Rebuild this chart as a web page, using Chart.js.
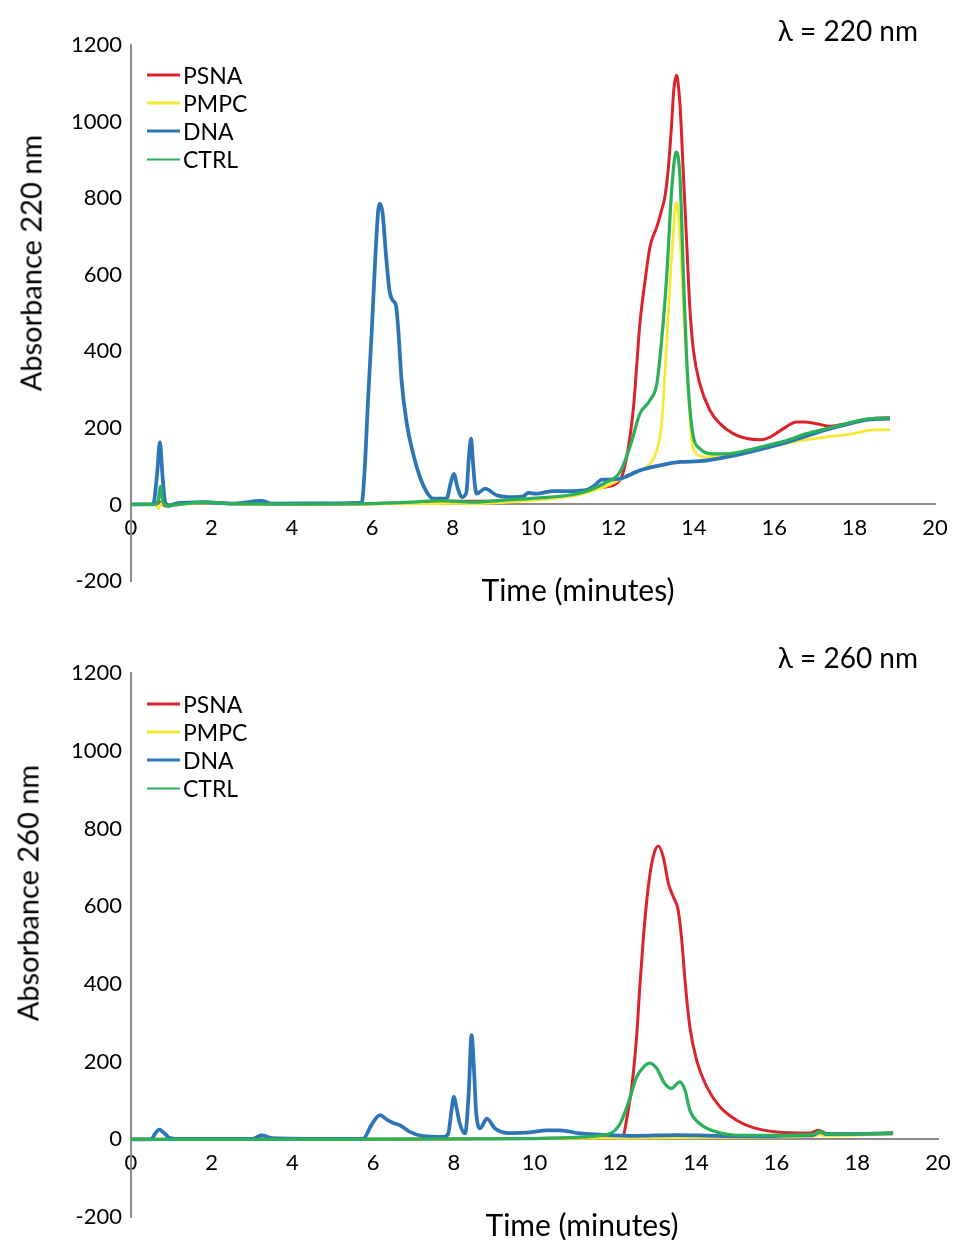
<!DOCTYPE html>
<html>
<head>
<meta charset="utf-8">
<title>HPLC chromatograms</title>
<script src="https://cdn.jsdelivr.net/npm/chart.js@4.4.1/dist/chart.umd.min.js"></script>
<style>
    html, body { margin: 0; padding: 0; background: #fff; }
    body { width: 954px; height: 1240px; position: relative; overflow: hidden; font-family: Lato, "Open Sans", sans-serif; color: #000; }
    canvas { position: absolute; left: 0; }
    .txt { position: absolute; white-space: nowrap; line-height: 1; }
    .center { transform: translate(-50%, -50%); }
    .vtitle { transform: translate(-50%, -50%) rotate(-90deg); }
    .lam { transform: translateY(-50%); }
    .legend-row { position: absolute; display: flex; align-items: center; transform: translateY(-50%); font-size: 23px; line-height: 1; }
    .legend-row .swatch { display: inline-block; width: 33px; margin-right: 3px; }
</style>
</head>
<body>
<canvas id="chart220" width="954" height="620" style="top:0"></canvas>
<canvas id="chart260" width="954" height="620" style="top:620px"></canvas>

<div class="txt lam" style="right:36px; top:30px; font-size:28px">λ = 220 nm</div>
<div class="txt center" style="left:578px; top:589px; font-size:30px">Time (minutes)</div>
<div class="txt vtitle" style="left:30px; top:263px; font-size:29px">Absorbance 220 nm</div>
<div id="legend220"></div>

<div class="txt lam" style="right:36px; top:657px; font-size:28px">λ = 260 nm</div>
<div class="txt center" style="left:582px; top:1224px; font-size:30px">Time (minutes)</div>
<div class="txt vtitle" style="left:27px; top:893px; font-size:29px">Absorbance 260 nm</div>
<div id="legend260"></div>

<script>
// =========================================================
// Size-exclusion chromatograms at 220 nm and 260 nm
// =========================================================

// ---------- Series ----------
var seriesNames = ["PSNA", "PMPC", "DNA", "CTRL"];
var seriesColors = ["#da242b", "#f5e935", "#2e75b6", "#2cb05a"];
var seriesWidths = [3, 2.75, 3.75, 3.25];
var legendWidths = [2.5, 2.5, 3.5, 2.5];
var drawOrder = [4, 3, 2, 1]; // CTRL painted last (on top)

// ---------- Axis ticks ----------
var timeTicks = [0, 2, 4, 6, 8, 10, 12, 14, 16, 18, 20];
var absTicks = [-200, 0, 200, 400, 600, 800, 1000, 1200];

// ---------- λ = 220 nm, [time (min), absorbance] ----------
var psna220 = [[0,0],[0.6,0],[0.72,6],[0.85,-4],[1.2,0],[1.8,5],[3,1],[5,1],[7,5],[8,8],
    [9,8],[10,14],[11,24],[11.7,44],[12.16,63],[12.33,124],[12.5,254],[12.66,473],[12.79,586],[12.91,673],
    [13.08,725],[13.2,769],[13.28,803],[13.37,882],[13.45,996],[13.5,1080],[13.57,1121],[13.62,1090],[13.66,1039],[13.74,865],
    [13.82,690],[13.9,516],[13.99,403],[14.15,315],[14.4,246],[14.65,211],[14.98,185],[15.32,172],[15.65,169],[15.9,176],
    [16.23,198],[16.56,215],[16.72,215],[17.06,211],[17.39,204],[17.8,211],[18.38,224],[18.88,226]];

var pmpc220 = [[0,0],[0.6,0],[0.68,-10],[0.76,3],[0.9,-3],[1.8,4],[3,0],[5,0],[7,2],[8,3],
    [8.5,2],[9.35,6],[10.17,12],[11,22],[11.5,36],[11.83,48],[12.16,65],[12.66,89],[12.91,106],[13.08,141],
    [13.2,211],[13.33,429],[13.45,647],[13.57,790],[13.66,690],[13.74,516],[13.86,298],[13.95,167],[14.07,132],[14.32,124],
    [14.82,132],[15.65,146],[16.48,163],[17.31,176],[17.97,185],[18.47,195],[18.88,195]];

var dna220 = [[0,0],[0.55,0],[0.65,80],[0.72,163],[0.78,80],[0.85,5],[0.95,-4],[1.1,2],[1.8,6],[2.5,2],
    [3.25,9],[3.5,2],[5,3],[5.74,5],[5.82,106],[5.9,281],[5.99,455],[6.07,629],[6.15,769],[6.19,786],
    [6.26,760],[6.34,655],[6.43,559],[6.51,533],[6.59,520],[6.65,455],[6.73,324],[6.86,211],[7.02,132],[7.19,71],
    [7.36,32],[7.52,15],[7.85,15],[7.95,55],[8.03,80],[8.12,45],[8.23,19],[8.34,30],[8.41,130],[8.46,172],
    [8.5,120],[8.55,55],[8.6,28],[8.81,41],[9.1,24],[9.51,19],[9.76,21],[9.88,30],[10.09,28],[10.5,35],
    [11,35],[11.34,38],[11.54,50],[11.71,65],[11.92,65],[12.16,67],[12.66,89],[13.16,102],[13.66,111],[14.15,113],
    [14.82,124],[15.5,140],[16.3,162],[17.3,195],[17.8,209],[18.38,222],[18.88,224]];

var ctrl220 = [[0,0],[0.6,0],[0.68,12],[0.73,47],[0.79,8],[0.9,-3],[1.2,0],[1.8,6],[2.5,2],[4,1],
    [6,2],[7,6],[7.7,10],[8.5,6],[9.35,12],[10.17,17],[11,26],[11.42,38],[11.83,58],[12.16,84],
    [12.41,150],[12.66,237],[12.91,272],[13.08,315],[13.2,429],[13.33,603],[13.45,821],[13.56,921],[13.66,847],[13.74,603],
    [13.82,385],[13.9,254],[13.99,176],[14.15,146],[14.48,132],[14.82,132],[15.32,141],[15.81,154],[16.31,167],[16.81,185],
    [17.31,198],[17.8,211],[18.38,224],[18.88,226]];

// ---------- λ = 260 nm, [time (min), absorbance] ----------
var psna260 = [[0,0],[5,0],[10,2],[11,3],[12,4],[12.2,10],[12.28,49],[12.41,135],[12.53,263],[12.61,392],
    [12.7,521],[12.82,650],[12.94,727],[13.07,755],[13.19,727],[13.32,658],[13.44,624],[13.56,590],[13.65,512],[13.73,409],
    [13.85,289],[14.02,203],[14.27,135],[14.6,83],[15.01,49],[15.42,30],[16,19],[16.83,16],[17.03,23],[17.24,15],
    [18,14],[18.89,16]];

var pmpc260 = [[0,0],[4,0],[8,1],[10,2],[12,3],[14,4],[16,6],[16.95,8],[17.05,12],[17.2,9],
    [18,11],[18.88,13]];

var dna260 = [[0,0],[0.5,0],[0.6,15],[0.7,25],[0.8,18],[0.95,4],[1.2,1],[3,1],[3.24,10],[3.5,3],
    [5,1],[5.76,2],[5.95,35],[6.17,62],[6.35,50],[6.5,42],[6.67,36],[6.91,19],[7.24,8],[7.74,6],
    [7.86,14],[7.95,80],[8,109],[8.07,80],[8.15,40],[8.28,15],[8.37,120],[8.44,268],[8.5,180],[8.55,75],
    [8.65,28],[8.82,53],[9.02,28],[9.39,16],[9.9,18],[10.3,23],[10.63,23],[11.13,15],[11.62,12],[12.5,9],
    [13.5,11],[14.5,9],[15.5,8],[16.5,10],[16.9,11],[17.08,19],[17.25,13],[18,14],[18.88,15]];

var ctrl260 = [[0,0],[5,0],[10,2],[11,5],[11.87,15],[12.12,40],[12.32,92],[12.53,160],[12.7,186],[12.86,196],
    [13.03,182],[13.23,143],[13.4,131],[13.6,148],[13.73,126],[13.85,75],[14.1,40],[14.51,19],[15.09,10],[16,10],
    [16.9,12],[17.05,20],[17.25,13],[18,14],[18.88,16]];

(function () {
    "use strict";

    var fontFamily = "Lato, 'Open Sans', sans-serif";
    var axisColor = "#8c8c8c";

    function buildDatasets(seriesData) {
        return seriesNames.map(function (name, i) {
            return {
                label: name,
                data: seriesData[i].map(function (p) { return { x: p[0], y: p[1] }; }),
                borderColor: seriesColors[i],
                backgroundColor: seriesColors[i],
                borderWidth: seriesWidths[i],
                pointRadius: 0,
                cubicInterpolationMode: "monotone",
                fill: false,
                order: drawOrder[i]
            };
        });
    }

    function ticksFrom(list) {
        return function (scale) {
            scale.ticks = list.map(function (v) { return { value: v }; });
        };
    }

    // keep the plot area exactly where the layout padding puts it
    function noLabelPadding(scale) {
        scale.paddingLeft = 0;
        scale.paddingRight = 0;
        scale.paddingTop = 0;
        scale.paddingBottom = 0;
    }

    function makeChart(canvasId, seriesData, pad, yAxisWidth) {
        var ctx = document.getElementById(canvasId).getContext("2d");
        return new Chart(ctx, {
            type: "line",
            data: { datasets: buildDatasets(seriesData) },
            options: {
                responsive: false,
                animation: false,
                events: [],
                layout: { padding: pad },
                plugins: {
                    legend: { display: false },
                    tooltip: { enabled: false }
                },
                scales: {
                    x: {
                        type: "linear",
                        min: timeTicks[0],
                        max: timeTicks[timeTicks.length - 1],
                        position: { y: 0 },
                        afterBuildTicks: ticksFrom(timeTicks),
                        afterFit: noLabelPadding,
                        grid: { display: false, drawTicks: false },
                        border: { display: true, color: axisColor, width: 2 },
                        ticks: {
                            padding: 10,
                            color: "#000",
                            maxRotation: 0,
                            autoSkip: false,
                            font: { family: fontFamily, size: 22 },
                            callback: function (v) { return String(v); }
                        }
                    },
                    y: {
                        type: "linear",
                        min: absTicks[0],
                        max: absTicks[absTicks.length - 1],
                        afterBuildTicks: ticksFrom(absTicks),
                        afterFit: function (scale) {
                            noLabelPadding(scale);
                            scale.width = yAxisWidth;
                        },
                        grid: { display: false, drawTicks: false },
                        border: { display: true, color: axisColor, width: 2 },
                        ticks: {
                            padding: 9,
                            color: "#000",
                            font: { family: fontFamily, size: 22 },
                            callback: function (v) { return String(v); }
                        }
                    }
                }
            }
        });
    }

    // ---------- HTML legend ----------
    function buildLegend(id, top0, step) {
        var host = document.getElementById(id);
        seriesNames.forEach(function (name, i) {
            var row = document.createElement("div");
            row.className = "legend-row";
            row.style.left = "147px";
            row.style.top = (top0 + i * step) + "px";
            var sw = document.createElement("span");
            sw.className = "swatch";
            sw.style.height = legendWidths[i] + "px";
            sw.style.background = seriesColors[i];
            var lbl = document.createElement("span");
            lbl.textContent = name;
            row.appendChild(sw);
            row.appendChild(lbl);
            host.appendChild(row);
        });
    }

    // top chart: plot area x 131..935, y 45..581
    makeChart("chart220", [psna220, pmpc220, dna220, ctrl220],
        { left: 0, top: 45, right: 19, bottom: 39 }, 131);
    // bottom chart: plot area x 131..938, y 673..1217 (page)
    makeChart("chart260", [psna260, pmpc260, dna260, ctrl260],
        { left: 0, top: 53, right: 16, bottom: 23 }, 131);

    buildLegend("legend220", 75, 28.1);
    buildLegend("legend260", 704, 28.1);
})();
</script>
</body>
</html>
